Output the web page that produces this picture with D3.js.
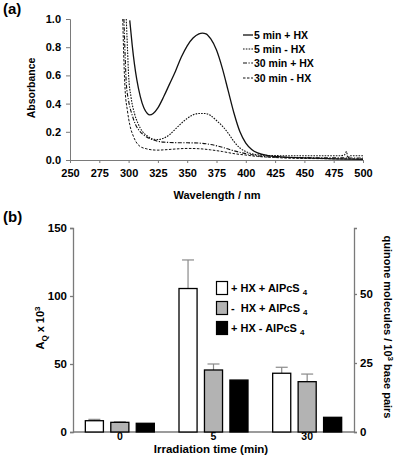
<!DOCTYPE html>
<html>
<head>
<meta charset="utf-8">
<script src="https://cdn.jsdelivr.net/npm/d3@7"></script>
<style>
body { margin: 0; background: #fff; }
svg { display: block; font-family: "Liberation Sans", Arial, sans-serif; font-weight: bold; }
</style>
</head>
<body>
<div id="chart"></div>
<script>
// ---- panel (a) spectra ----
var wl1 = [301, 303, 305, 307, 310, 313, 316, 318, 321, 325, 330, 335, 340, 345, 350, 355, 360, 363, 366, 370, 375, 380, 385, 390, 395, 400, 405, 410, 420, 430, 450, 475, 500];
var abs1 = [0.99, 0.82, 0.68, 0.57, 0.45, 0.37, 0.33, 0.32, 0.33, 0.37, 0.45, 0.54, 0.63, 0.73, 0.81, 0.865, 0.895, 0.9, 0.895, 0.86, 0.78, 0.65, 0.49, 0.33, 0.2, 0.12, 0.075, 0.05, 0.03, 0.022, 0.015, 0.008, 0.005];

var wl2 = [298, 299, 300, 302, 305, 308, 312, 316, 320, 325, 330, 335, 340, 345, 350, 355, 360, 365, 370, 375, 380, 385, 390, 395, 400, 405, 410, 420, 440, 460, 480, 484, 486, 487, 489, 500];
var abs2 = [1.0, 0.8, 0.6, 0.45, 0.33, 0.26, 0.2, 0.17, 0.15, 0.145, 0.155, 0.18, 0.22, 0.26, 0.295, 0.32, 0.33, 0.33, 0.315, 0.28, 0.24, 0.19, 0.13, 0.085, 0.06, 0.045, 0.037, 0.032, 0.03, 0.03, 0.03, 0.035, 0.06, 0.015, 0.03, 0.03];

var wl3 = [296, 297, 298, 300, 303, 306, 310, 315, 320, 325, 330, 340, 350, 360, 370, 380, 390, 400, 410, 420, 440, 460, 480, 500];
var abs3 = [1.0, 0.75, 0.55, 0.42, 0.32, 0.25, 0.2, 0.165, 0.145, 0.133, 0.127, 0.123, 0.122, 0.12, 0.11, 0.09, 0.065, 0.045, 0.03, 0.022, 0.018, 0.016, 0.015, 0.014];

var wl4 = [295, 296, 297, 299, 301, 304, 307, 310, 315, 320, 325, 330, 340, 350, 360, 370, 380, 390, 400, 410, 420, 440, 460, 480, 500];
var abs4 = [1.0, 0.7, 0.5, 0.35, 0.25, 0.17, 0.12, 0.095, 0.08, 0.072, 0.07, 0.072, 0.078, 0.082, 0.08, 0.072, 0.06, 0.045, 0.035, 0.025, 0.02, 0.012, 0.01, 0.008, 0.008];

var specNames = ["5 min + HX", "5 min - HX", "30 min + HX", "30 min - HX"];
var xTicksA = [250, 275, 300, 325, 350, 375, 400, 425, 450, 475, 500];
var yTicksA = [0, 0.2, 0.4, 0.6, 0.8, 1.0];

// ---- panel (b) bars ----
var times = ["0", "5", "30"];
var groups = ["+ HX + AlPcS", "-  HX + AlPcS", "+ HX - AlPcS"];
var plusHXplus = [8.3, 105.5, 43.2];
var minusHXplus = [7.1, 45.6, 37.0];
var plusHXminus = [6.4, 38.2, 10.8];
var errPlusPlus = [9.3, 126.5, 47.6];
var errMinusPlus = [7.5, 50.0, 42.6];
var yTicksL = [0, 50, 100, 150];
var yTicksR = [0, 25, 50];

var width = 396, height = 456;
var svg = d3.select("#chart").append("svg")
  .attr("width", width).attr("height", height);

var axisCol = "#7a7a7a";

// ======== panel (a) ========
var xa = d3.scaleLinear().domain([250, 500]).range([70, 363]);
var ya = d3.scaleLinear().domain([0, 1]).range([160, 19]);

svg.append("text").attr("x", 3).attr("y", 14).attr("font-size", 15).text("(a)");

var gxa = svg.append("g").attr("transform", "translate(0,160)")
  .call(d3.axisBottom(xa).tickValues(xTicksA).tickSize(3).tickPadding(6).tickFormat(d3.format("d")));
var gya = svg.append("g").attr("transform", "translate(70,0)")
  .call(d3.axisLeft(ya).tickValues(yTicksA).tickSize(4).tickPadding(5).tickFormat(d3.format(".1f")));
[gxa, gya].forEach(function(g) {
  g.selectAll("path, line").attr("stroke", axisCol);
  g.selectAll("text").attr("font-size", 11).attr("font-family", "Liberation Sans, Arial, sans-serif")
    .attr("font-weight", "bold").attr("fill", "#000");
});

svg.append("text").attr("x", 217).attr("y", 199).attr("text-anchor", "middle")
  .attr("font-size", 11).text("Wavelength / nm");
svg.append("text").attr("transform", "translate(35,88) rotate(-90)").attr("text-anchor", "middle")
  .attr("font-size", 10.5).text("Absorbance");

var specs = [
  { w: wl1, a: abs1, dash: null, sw: 1.3 },
  { w: wl2, a: abs2, dash: "1.6,1.2", sw: 1.1 },
  { w: wl3, a: abs3, dash: "4,1.5,1.2,1.5", sw: 1.1 },
  { w: wl4, a: abs4, dash: "2.5,1.5", sw: 1.0 }
];

var line = d3.line().x(d => xa(d[0])).y(d => ya(d[1])).curve(d3.curveMonotoneX);

specs.forEach(function(s) {
  var pts = s.w.map((w, i) => [w, s.a[i]]);
  svg.append("path").datum(pts)
    .attr("d", line)
    .attr("fill", "none")
    .attr("stroke", "#111")
    .attr("stroke-width", s.sw)
    .attr("stroke-dasharray", s.dash);
});

// legend (a)
var legA = svg.append("g");
specNames.forEach(function(n, i) {
  var yy = [35, 49, 63, 78][i];
  legA.append("line").attr("x1", 243).attr("x2", 253).attr("y1", yy).attr("y2", yy)
    .attr("stroke", "#111").attr("stroke-width", specs[i].sw).attr("stroke-dasharray", specs[i].dash);
  legA.append("text").attr("x", 254).attr("y", yy + 3.8).attr("font-size", 10.5).text(n);
});

// ======== panel (b) ========
var xb = d3.scaleBand().domain(times).range([73, 354]);
var sub = d3.scaleBand().domain(groups).range([-34.5, 34.5]).paddingInner(0.29);
var yl = d3.scaleLinear().domain([0, 150]).range([432, 228]);
var yr = d3.scaleLinear().domain([0, 73.9]).range([432, 228]);

svg.append("text").attr("x", 3).attr("y", 222).attr("font-size", 15).text("(b)");

var gyl = svg.append("g").attr("transform", "translate(73,0)")
  .call(d3.axisLeft(yl).tickValues(yTicksL).tickSize(3).tickPadding(3));
var gyr = svg.append("g").attr("transform", "translate(354,0)")
  .call(d3.axisRight(yr).tickValues(yTicksR).tickSize(3).tickPadding(3));
var gxb = svg.append("g").attr("transform", "translate(0,432)")
  .call(d3.axisBottom(xb).tickSize(0).tickPadding(1));
[gyl, gyr, gxb].forEach(function(g) {
  g.selectAll("path, line").attr("stroke", axisCol).attr("stroke-width", 1.3);
  g.selectAll("text").attr("font-size", 11.5).attr("font-family", "Liberation Sans, Arial, sans-serif")
    .attr("font-weight", "bold").attr("fill", "#000");
});
gxb.selectAll("text").attr("font-size", 10.5).attr("dy", "0.62em");
gxb.select(".domain").attr("d", "M73,0H354");

var fills = ["#ffffff", "#b3b3b3", "#000000"];
var series = [plusHXplus, minusHXplus, plusHXminus];
var errs = [errPlusPlus, errMinusPlus, null];

series.forEach(function(vals, si) {
  var gname = groups[si];
  if (errs[si]) {
    var eg = svg.append("g").attr("stroke", "#8a8a8a").attr("stroke-width", 1.2);
    times.forEach(function(t, ti) {
      var cx = xb(t) + xb.bandwidth() / 2 + sub(gname) + sub.bandwidth() / 2;
      eg.append("line").attr("x1", cx).attr("x2", cx)
        .attr("y1", yl(vals[ti])).attr("y2", yl(errs[si][ti]));
      eg.append("line").attr("x1", cx - 6).attr("x2", cx + 6)
        .attr("y1", yl(errs[si][ti])).attr("y2", yl(errs[si][ti]));
    });
  }
  svg.append("g").selectAll("rect").data(vals).enter().append("rect")
    .attr("x", (d, i) => xb(times[i]) + xb.bandwidth() / 2 + sub(gname))
    .attr("width", sub.bandwidth())
    .attr("y", d => yl(d))
    .attr("height", d => yl(0) - yl(d))
    .attr("fill", fills[si])
    .attr("stroke", "#000")
    .attr("stroke-width", 1.3);
});

// legend (b)
groups.forEach(function(g, i) {
  var yy = [288, 308, 328][i];
  svg.append("rect").attr("x", 216.5).attr("y", yy - 6.5).attr("width", 11).attr("height", 13)
    .attr("fill", fills[i]).attr("stroke", "#000").attr("stroke-width", 1.2);
  var t = svg.append("text").attr("x", 231).attr("y", yy + 4).attr("font-size", 11)
    .attr("xml:space", "preserve");
  t.append("tspan").text(g + " ");
  t.append("tspan").attr("font-size", 8).attr("dy", 3).text("4");
});

// axis titles (b)
var lt = svg.append("text").attr("transform", "translate(44,328) rotate(-90)")
  .attr("text-anchor", "middle").attr("font-size", 11);
lt.append("tspan").text("A");
lt.append("tspan").attr("font-size", 8).attr("dy", 3).text("Q");
lt.append("tspan").attr("dy", -3).text(" x 10");
lt.append("tspan").attr("font-size", 8).attr("dy", -4).text("3");

var rt = svg.append("text").attr("transform", "translate(384,327) rotate(90)")
  .attr("text-anchor", "middle").attr("font-size", 11);
rt.append("tspan").text("quinone molecules / 10");
rt.append("tspan").attr("font-size", 8).attr("dy", -4).text("3");
rt.append("tspan").attr("dy", 4).text(" base pairs");

svg.append("text").attr("x", 211).attr("y", 453).attr("text-anchor", "middle")
  .attr("font-size", 11.5).text("Irradiation time (min)");
</script>
</body>
</html>
